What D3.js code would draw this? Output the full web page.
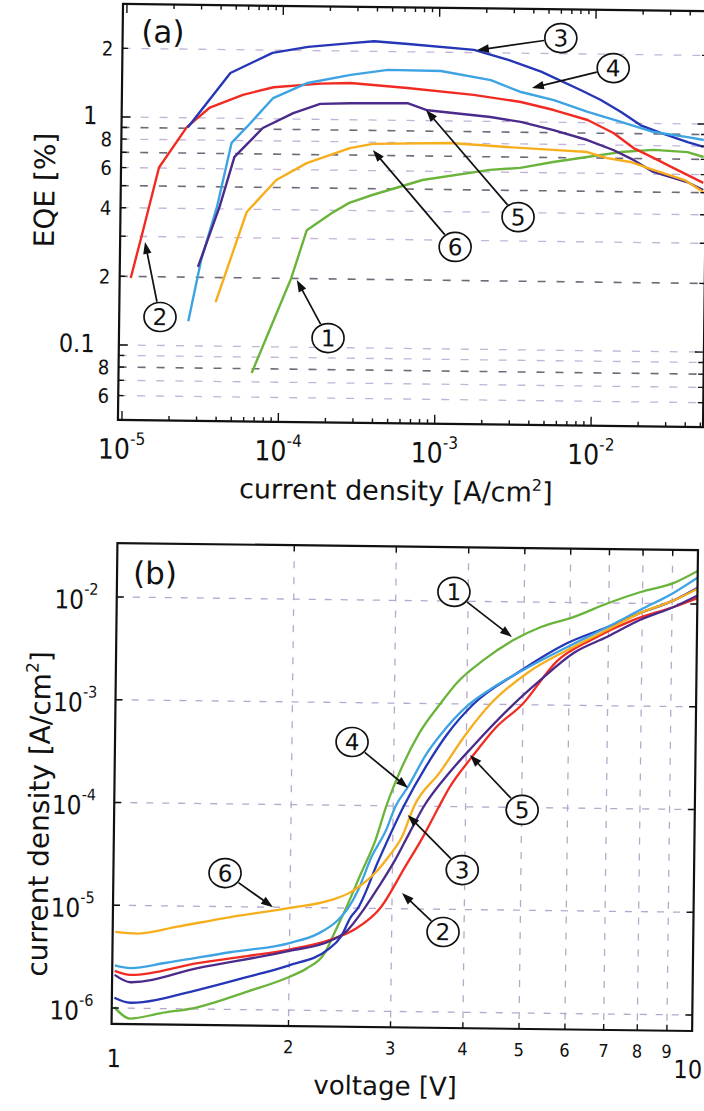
<!DOCTYPE html>
<html>
<head>
<meta charset="utf-8">
<script src="https://cdn.jsdelivr.net/npm/d3@7"></script>
<style>
  html, body { margin: 0; padding: 0; background: #fff; }
  svg { display: block; }
</style>
</head>
<body>
<svg id="fig" width="704" height="1111"></svg>
<script>
// ---------------- panel (a): EQE [%] versus current density [A/cm2] ----------------
const eqeJ1 = [6.7e-5, 1.18e-4, 1.47e-4, 2.12e-4, 2.73e-4, 3.83e-4, 8.0e-4, 2.15e-3, 3.36e-3, 5.46e-3, 9.0e-3, 1.47e-2, 2.39e-2, 3.94e-2, 5.0e-2];
const eqeE1 = [0.0766, 0.201, 0.326, 0.389, 0.432, 0.469, 0.549, 0.613, 0.628, 0.669, 0.707, 0.746, 0.766, 0.752, 0.717];

const eqeJ2 = [1.11e-5, 1.29e-5, 1.65e-5, 2.46e-5, 3.45e-5, 5.6e-5, 8.8e-5, 1.75e-4, 2.73e-4, 6.3e-4, 1.67e-3, 3.36e-3, 5.46e-3, 9.0e-3, 1.32e-2, 1.78e-2, 2.39e-2, 3.2e-2, 5.0e-2];
const eqeE2 = [0.197, 0.299, 0.603, 0.907, 1.112, 1.269, 1.375, 1.435, 1.45, 1.388, 1.305, 1.222, 1.131, 1.027, 0.904, 0.778, 0.706, 0.640, 0.552];

const eqeJ3 = [2.5e-5, 4.64e-5, 8.6e-5, 1.45e-4, 2.73e-4, 3.83e-4, 6.33e-4, 1.67e-3, 2.77e-3, 4.5e-3, 8.13e-3, 1.09e-2, 1.47e-2, 1.97e-2, 2.65e-2, 3.94e-2, 5.0e-2];
const eqeE3 = [0.907, 1.58, 1.945, 2.077, 2.169, 2.217, 2.165, 2.057, 1.865, 1.664, 1.386, 1.259, 1.118, 0.98, 0.909, 0.832, 0.794];

const eqeJ4 = [2.61e-5, 3.12e-5, 3.9e-5, 4.78e-5, 5.97e-5, 8.75e-5, 1.45e-4, 2.73e-4, 4.71e-4, 1.03e-3, 2.15e-3, 3.36e-3, 5.46e-3, 9.0e-3, 1.47e-2, 2.39e-2, 3.94e-2, 5.0e-2];
const eqeE4 = [0.128, 0.238, 0.408, 0.78, 0.918, 1.233, 1.442, 1.573, 1.663, 1.654, 1.517, 1.351, 1.251, 1.114, 1.011, 0.917, 0.875, 0.851];

const eqeJ5 = [2.98e-5, 4.05e-5, 5.0e-5, 7.55e-5, 1.18e-4, 1.75e-4, 2.73e-4, 6.33e-4, 8.5e-4, 2.15e-3, 3.36e-3, 5.46e-3, 9.0e-3, 1.32e-2, 1.78e-2, 2.39e-2, 3.94e-2, 5.0e-2];
const eqeE5 = [0.222, 0.408, 0.677, 0.91, 1.062, 1.169, 1.182, 1.191, 1.111, 1.046, 0.999, 0.924, 0.839, 0.761, 0.69, 0.613, 0.556, 0.514];

const eqeJ6 = [3.89e-5, 6.05e-5, 9.3e-5, 1.45e-4, 2.73e-4, 3.83e-4, 1.19e-3, 2.77e-3, 5.46e-3, 9.0e-3, 1.21e-2, 1.70e-2, 2.39e-2, 3.8e-2, 5.0e-2];
const eqeE6 = [0.156, 0.389, 0.539, 0.642, 0.751, 0.786, 0.80, 0.774, 0.756, 0.743, 0.701, 0.676, 0.626, 0.567, 0.504];

// EQE axis: grid values and their tick labels
const eqeTickValues = [0.06, 0.07, 0.08, 0.09, 0.1, 0.2, 0.3, 0.4, 0.5, 0.6, 0.7, 0.8, 0.9, 1, 2];
const eqeTickLabels = ["6", "", "8", "", "0.1", "2", "", "4", "", "6", "", "8", "", "1", "2"];
// current-density axis (decades) and exponent labels
const currentTickValues = [1e-5, 1e-4, 1e-3, 1e-2];
const currentTickExponents = ["-5", "-4", "-3", "-2"];

// ---------------- panel (b): current density [A/cm2] versus voltage [V] ----------------
const jvV1 = [1.0, 1.065, 1.2, 1.39, 1.69, 2.0, 2.15, 2.3, 2.39, 2.5, 2.65, 2.8, 2.92, 3.07, 3.32, 3.6, 3.84, 4.27, 4.8, 5.35, 6.1, 6.97, 7.94, 9.06, 10];
const jvJ1 = [1.02e-6, 7.93e-7, 9.0e-7, 1.04e-6, 1.49e-6, 2.1e-6, 2.58e-6, 3.6e-6, 5.7e-6, 1.0e-5, 2.2e-5, 4.6e-5, 1.0e-4, 2.1e-4, 5.2e-4, 1.0e-3, 1.6e-3, 2.7e-3, 4.24e-3, 5.73e-3, 7.25e-3, 9.95e-3, 1.29e-2, 1.6e-2, 2.14e-2];

const jvV2 = [1.0, 1.065, 1.39, 1.69, 2.0, 2.35, 2.6, 2.86, 3.16, 3.36, 3.6, 3.74, 4.1, 4.5, 4.98, 5.72, 6.52, 7.73, 9.06, 10];
const jvJ2 = [2.3e-6, 2.11e-6, 2.8e-6, 3.32e-6, 3.89e-6, 4.88e-6, 6.3e-6, 1.0e-5, 2.6e-5, 4.7e-5, 1.0e-4, 1.5e-4, 3.1e-4, 6.0e-4, 1.0e-3, 2.7e-3, 4.33e-3, 6.9e-3, 9.3e-3, 1.15e-2];

const jvV3 = [1.0, 1.065, 1.39, 1.69, 2.0, 2.33, 2.45, 2.55, 2.62, 2.84, 3.13, 3.42, 3.7, 4.1, 4.88, 5.95, 6.97, 7.94, 9.06, 10];
const jvJ3 = [1.26e-6, 1.13e-6, 1.53e-6, 2.07e-6, 2.73e-6, 3.92e-6, 5.2e-6, 8.2e-6, 1.0e-5, 2.96e-5, 1.0e-4, 2.5e-4, 5.0e-4, 9.9e-4, 2.03e-3, 4.03e-3, 5.83e-3, 8.08e-3, 1.08e-2, 1.46e-2];

const jvV4 = [1.0, 1.065, 1.22, 1.58, 2.0, 2.24, 2.42, 2.52, 2.62, 2.76, 2.92, 3.03, 3.17, 3.42, 3.6, 4.0, 4.39, 5.0, 5.95, 6.97, 7.94, 9.06, 10];
const jvJ4 = [2.6e-6, 2.46e-6, 2.78e-6, 3.6e-6, 4.5e-6, 5.6e-6, 7.6e-6, 1.0e-5, 1.5e-5, 3.18e-5, 5.8e-5, 1.0e-4, 1.5e-4, 3.27e-4, 4.9e-4, 9.5e-4, 1.4e-3, 2.18e-3, 3.69e-3, 5.83e-3, 8.66e-3, 1.28e-2, 1.84e-2];

const jvV5 = [1.0, 1.065, 1.39, 2.0, 2.35, 2.5, 2.69, 2.84, 3.03, 3.2, 3.39, 3.74, 4.1, 4.81, 5.35, 6.1, 6.97, 7.94, 9.06, 10];
const jvJ5 = [2.1e-6, 1.79e-6, 2.5e-6, 3.78e-6, 4.77e-6, 5.86e-6, 1.0e-5, 1.61e-5, 2.97e-5, 5.4e-5, 1.0e-4, 2.12e-4, 3.85e-4, 1.0e-3, 1.74e-3, 3.23e-3, 4.69e-3, 6.92e-3, 9.32e-3, 1.23e-2];

const jvV6 = [1.0, 1.095, 1.28, 1.58, 2.0, 2.35, 2.55, 2.62, 2.8, 2.95, 3.11, 3.26, 3.6, 4.0, 4.39, 5.08, 5.95, 6.97, 7.94, 9.06, 10];
const jvJ6 = [5.5e-6, 5.34e-6, 6.3e-6, 7.93e-6, 9.87e-6, 1.19e-5, 1.44e-5, 1.6e-5, 2.21e-5, 3.18e-5, 4.98e-5, 1.0e-4, 2.12e-4, 5.17e-4, 1.0e-3, 2.04e-3, 3.45e-3, 5.49e-3, 8.08e-3, 1.08e-2, 1.43e-2];

const voltTickValues = [1, 2, 3, 4, 5, 6, 7, 8, 9, 10];
const voltTickLabels = ["1", "2", "3", "4", "5", "6", "7", "8", "9", "10"];
const jvTickValues = [1e-6, 1e-5, 1e-4, 1e-3, 1e-2];
const jvTickExponents = ["-6", "-5", "-4", "-3", "-2"];

// device numbering used by the circled call-outs
const deviceIds = [1, 2, 3, 4, 5, 6];

// call-outs: circle centre and arrow tip, both in data units
const eqeNotes = [
  { id: 3, at: [5.98e-3, 2.34], tip: [1.74e-3, 2.05] },
  { id: 4, at: [1.30e-2, 1.74], tip: [3.94e-3, 1.41] },
  { id: 5, at: [3.29e-3, 0.382], tip: [8.32e-4, 1.114] },
  { id: 6, at: [1.31e-3, 0.2805], tip: [3.83e-4, 0.739] },
  { id: 1, at: [2.05e-4, 0.110], tip: [1.28e-4, 0.197] },
  { id: 2, at: [1.72e-5, 0.1333], tip: [1.36e-5, 0.284] }
];
const jvNotes = [
  { id: 1, at: [3.78, 1.23e-2], tip: [4.77, 4.55e-3] },
  { id: 4, at: [2.54, 4.14e-4], tip: [3.18, 1.50e-4] },
  { id: 5, at: [5.01, 9.46e-5], tip: [4.06, 3.19e-4] },
  { id: 3, at: [3.96, 2.42e-5], tip: [3.18, 8.19e-5] },
  { id: 2, at: [3.68, 6.01e-6], tip: [3.12, 1.42e-5] },
  { id: 6, at: [1.543, 2.12e-5], tip: [1.87, 1.0e-5] }
];

// ---------------- drawing ----------------
const eqeSeries = [
  [eqeJ1, eqeE1], [eqeJ2, eqeE2], [eqeJ3, eqeE3],
  [eqeJ4, eqeE4], [eqeJ5, eqeE5], [eqeJ6, eqeE6]
];
const jvSeries = [
  [jvV1, jvJ1], [jvV2, jvJ2], [jvV3, jvJ3],
  [jvV4, jvJ4], [jvV5, jvJ5], [jvV6, jvJ6]
];
const colorOf = d3.scaleOrdinal()
  .domain(deviceIds)
  .range(["#6bb43b", "#f22b22", "#2536b6", "#3ea3e3", "#4a2b8c", "#f7ae1c"]);

const TITLE_FONT = "'DejaVu Sans', Verdana, sans-serif";
const TICK_FONT = "'Liberation Sans Narrow', 'DejaVu Sans Condensed', 'Liberation Sans', sans-serif";

const svg = d3.select("#fig");
svg.append("rect").attr("width", 704).attr("height", 1111).attr("fill", "#fff");
// the whole figure sits slightly tilted on the page
const root = svg.append("g").attr("transform", "rotate(0.7 352 555)");

const defs = svg.append("defs");

function clipFor(id, x, y) {
  defs.append("clipPath").attr("id", id)
    .append("rect")
    .attr("x", x.range()[0]).attr("y", y.range()[1])
    .attr("width", x.range()[1] - x.range()[0])
    .attr("height", y.range()[0] - y.range()[1]);
  return "url(#" + id + ")";
}

function drawCallouts(g, notes, x, y) {
  const rx = 16, ry = 14.5;
  notes.forEach(n => {
    const cx = x(n.at[0]), cy = y(n.at[1]);
    const tx = x(n.tip[0]), ty = y(n.tip[1]);
    const dx = tx - cx, dy = ty - cy;
    const len = Math.hypot(dx, dy);
    const ux = dx / len, uy = dy / len;
    const rEdge = 1 / Math.sqrt((ux / rx) ** 2 + (uy / ry) ** 2) + 1;
    const headLen = 12, headHalf = 4.2;
    const sx = cx + ux * rEdge, sy = cy + uy * rEdge;
    const bx = tx - ux * headLen, by = ty - uy * headLen;
    g.append("line")
      .attr("x1", sx).attr("y1", sy).attr("x2", bx + ux * 1).attr("y2", by + uy * 1)
      .attr("stroke", "#111").attr("stroke-width", 1.7);
    g.append("path")
      .attr("d", `M${tx},${ty}L${bx - uy * headHalf},${by + ux * headHalf}L${bx + uy * headHalf},${by - ux * headHalf}Z`)
      .attr("fill", "#111");
    g.append("ellipse")
      .attr("cx", cx).attr("cy", cy).attr("rx", rx).attr("ry", ry)
      .attr("fill", "#fff").attr("stroke", "#111").attr("stroke-width", 1.7);
    g.append("text")
      .attr("x", cx).attr("y", cy + 8.2)
      .attr("text-anchor", "middle")
      .attr("font-family", TITLE_FONT).attr("font-size", 23)
      .attr("fill", "#111")
      .text(n.id);
  });
}

// ===== panel (a) =====
const xA = d3.scaleLog().domain([9.43e-6, 5.2e-2]).range([116.3, 701.4]);
const yA = d3.scaleLog().domain([0.0469, 3.13]).range([422.8, 6.8]);
const gA = root.append("g");

// dashed horizontal grid
const darkGrid = new Set([0.9, 0.7, 0.5, 0.2, 0.08]);
gA.append("g").selectAll("line").data(eqeTickValues).join("line")
  .attr("x1", xA.range()[0]).attr("x2", xA.range()[1])
  .attr("y1", d => yA(d)).attr("y2", d => yA(d))
  .attr("stroke", d => darkGrid.has(d) ? "#6f6a7a" : "#c3b3d6")
  .attr("stroke-width", d => darkGrid.has(d) ? 1.6 : 1.3)
  .attr("stroke-dasharray", "8,11");

// curves
const lineA = d3.line().x(d => xA(d[0])).y(d => yA(d[1]));
const clipA = clipFor("clipA", xA, yA);
gA.append("g").attr("clip-path", clipA)
  .selectAll("path").data(eqeSeries).join("path")
  .attr("d", s => lineA(d3.zip(s[0], s[1])))
  .attr("fill", "none")
  .attr("stroke", (s, i) => colorOf(deviceIds[i]))
  .attr("stroke-width", 2.4)
  .attr("stroke-linejoin", "round");

// frame
gA.append("rect")
  .attr("x", xA.range()[0]).attr("y", yA.range()[1])
  .attr("width", xA.range()[1] - xA.range()[0])
  .attr("height", yA.range()[0] - yA.range()[1])
  .attr("fill", "none").attr("stroke", "#111").attr("stroke-width", 2.2);

// x ticks (bottom and top, pointing inwards)
const [aLo, aHi] = xA.domain();
const currentMinor = d3.range(-6, -1).flatMap(e => d3.range(2, 10).map(m => m * Math.pow(10, e)))
  .filter(v => v > aLo && v < aHi);
const tickA = gA.append("g").attr("stroke", "#111").attr("stroke-width", 1.4);
[yA.range()[0], yA.range()[1]].forEach((yy, k) => {
  const dir = k === 0 ? -1 : 1;
  currentTickValues.forEach(v => tickA.append("line")
    .attr("x1", xA(v)).attr("x2", xA(v)).attr("y1", yy).attr("y2", yy + dir * 9));
  currentMinor.forEach(v => tickA.append("line")
    .attr("x1", xA(v)).attr("x2", xA(v)).attr("y1", yy).attr("y2", yy + dir * 4.5));
});
// y ticks (left and right)
[xA.range()[0], xA.range()[1]].forEach((xx, k) => {
  const dir = k === 0 ? 1 : -1;
  eqeTickValues.forEach(v => {
    const major = (v === 1 || v === 0.1);
    tickA.append("line")
      .attr("x1", xx).attr("x2", xx + dir * (major ? 9 : 5.5))
      .attr("y1", yA(v)).attr("y2", yA(v));
  });
});

// x tick labels 10^n
currentTickValues.forEach((v, i) => {
  const t = gA.append("text")
    .attr("x", xA(v)).attr("y", 461.5)
    .attr("text-anchor", "middle")
    .attr("font-family", TICK_FONT).attr("fill", "#111");
  t.append("tspan").attr("font-size", 28).text("10");
  t.append("tspan").attr("font-size", 17).attr("dy", -14).text(currentTickExponents[i]);
});
// y tick labels
eqeTickValues.forEach((v, i) => {
  const lab = eqeTickLabels[i];
  if (!lab) return;
  const major = (v === 1 || v === 0.1);
  gA.append("text")
    .attr("x", major ? 92 : 107)
    .attr("y", yA(v) + 7.5)
    .attr("text-anchor", "end")
    .attr("font-family", TICK_FONT)
    .attr("font-size", major ? 25 : 20)
    .attr("fill", "#111")
    .text(lab);
});

// axis titles
const xTitleA = gA.append("text")
  .attr("x", 395).attr("y", 499.5).attr("text-anchor", "middle")
  .attr("font-family", TITLE_FONT).attr("font-size", 27).attr("fill", "#111");
xTitleA.append("tspan").text("current density [A/cm");
xTitleA.append("tspan").attr("font-size", 16).attr("dy", -11).text("2");
xTitleA.append("tspan").attr("dy", 11).text("]");

gA.append("text")
  .attr("transform", "translate(50,193.8) rotate(-90)")
  .attr("text-anchor", "middle")
  .attr("font-family", TITLE_FONT).attr("font-size", 28).attr("fill", "#111")
  .text("EQE [%]");

gA.append("text")
  .attr("x", 156.6).attr("y", 45)
  .attr("text-anchor", "middle")
  .attr("font-family", TITLE_FONT).attr("font-size", 31).attr("fill", "#111")
  .text("(a)");

drawCallouts(gA.append("g"), eqeNotes, xA, yA);

// ===== panel (b) =====
const xB = d3.scaleLog().domain([0.99, 9.95]).range([117.3, 697.9]);
const yB = d3.scaleLog().domain([7.0e-7, 3.35e-2]).range([1026.8, 545.9]);
const gB = root.append("g");

// dashed grid
const gridB = gB.append("g")
  .attr("stroke", "#b6a8cc").attr("stroke-width", 1.3).attr("stroke-dasharray", "7,9");
voltTickValues.filter(v => v > 1 && v < 10).forEach(v => gridB.append("line")
  .attr("x1", xB(v)).attr("x2", xB(v)).attr("y1", yB.range()[1]).attr("y2", yB.range()[0]));
jvTickValues.forEach(v => gridB.append("line")
  .attr("x1", xB.range()[0]).attr("x2", xB.range()[1]).attr("y1", yB(v)).attr("y2", yB(v)));

// curves
const lineB = d3.line().x(d => xB(d[0])).y(d => yB(d[1])).curve(d3.curveMonotoneX);
const clipB = clipFor("clipB", xB, yB);
gB.append("g").attr("clip-path", clipB)
  .selectAll("path").data(jvSeries).join("path")
  .attr("d", s => lineB(d3.zip(s[0], s[1])))
  .attr("fill", "none")
  .attr("stroke", (s, i) => colorOf(deviceIds[i]))
  .attr("stroke-width", 2.3)
  .attr("stroke-linejoin", "round");

// frame
gB.append("rect")
  .attr("x", xB.range()[0]).attr("y", yB.range()[1])
  .attr("width", xB.range()[1] - xB.range()[0])
  .attr("height", yB.range()[0] - yB.range()[1])
  .attr("fill", "none").attr("stroke", "#111").attr("stroke-width", 2.2);

const tickB = gB.append("g").attr("stroke", "#111").attr("stroke-width", 1.4);
[yB.range()[0], yB.range()[1]].forEach((yy, k) => {
  const dir = k === 0 ? -1 : 1;
  voltTickValues.filter(v => v > 1 && v < 10).forEach(v => tickB.append("line")
    .attr("x1", xB(v)).attr("x2", xB(v)).attr("y1", yy).attr("y2", yy + dir * 6));
});
[xB.range()[0], xB.range()[1]].forEach((xx, k) => {
  const dir = k === 0 ? 1 : -1;
  jvTickValues.forEach(v => tickB.append("line")
    .attr("x1", xx).attr("x2", xx + dir * 7).attr("y1", yB(v)).attr("y2", yB(v)));
});

// x tick labels
voltTickValues.forEach((v, i) => {
  const edge = (v === 1 || v === 10);
  gB.append("text")
    .attr("x", v === 10 ? 694 : xB(v))
    .attr("y", v === 1 ? 1070 : (v === 10 ? 1074 : 1054))
    .attr("text-anchor", "middle")
    .attr("font-family", TICK_FONT)
    .attr("font-size", edge ? 25 : 18)
    .attr("fill", "#111")
    .text(voltTickLabels[i]);
});
// y tick labels 10^n
jvTickValues.forEach((v, i) => {
  const t = gB.append("text")
    .attr("x", 99).attr("y", yB(v) + 12)
    .attr("text-anchor", "end")
    .attr("font-family", TICK_FONT).attr("fill", "#111");
  t.append("tspan").attr("font-size", 26).text("10");
  t.append("tspan").attr("font-size", 16).attr("dy", -14).text(jvTickExponents[i]);
});

// axis titles
gB.append("text")
  .attr("x", 391.6).attr("y", 1094.5).attr("text-anchor", "middle")
  .attr("font-family", TITLE_FONT).attr("font-size", 26).attr("fill", "#111")
  .text("voltage [V]");

const yTitleB = gB.append("text")
  .attr("transform", "translate(52,817.8) rotate(-90)")
  .attr("text-anchor", "middle")
  .attr("font-family", TITLE_FONT).attr("font-size", 28).attr("fill", "#111");
yTitleB.append("tspan").text("current density [A/cm");
yTitleB.append("tspan").attr("font-size", 17).attr("dy", -12).text("2");
yTitleB.append("tspan").attr("dy", 12).text("]");

gB.append("text")
  .attr("x", 155.2).attr("y", 586.5)
  .attr("text-anchor", "middle")
  .attr("font-family", TITLE_FONT).attr("font-size", 31).attr("fill", "#111")
  .text("(b)");

drawCallouts(gB.append("g"), jvNotes, xB, yB);
</script>
</body>
</html>
